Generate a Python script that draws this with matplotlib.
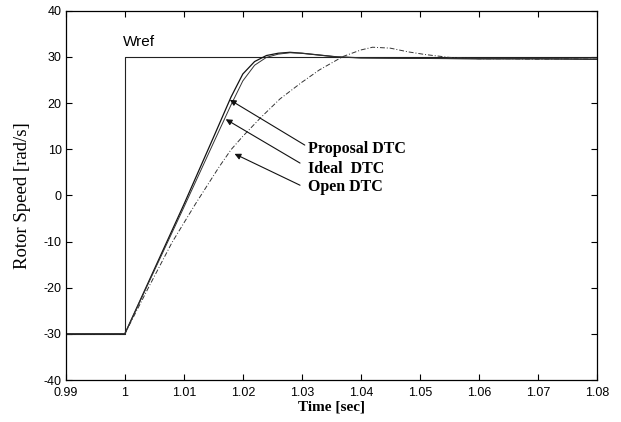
import matplotlib.pyplot as plt

# data
t_ref = [0.99, 1.0, 1.0, 1.08]
w_ref = [-30, -30, 30, 30]

t_prop = [0.99, 1.000, 1.005, 1.010, 1.015, 1.018, 1.020, 1.022, 1.024, 1.026,
          1.028, 1.030, 1.033, 1.036, 1.040, 1.050, 1.060, 1.070, 1.080]
w_prop = [-30, -30, -16, -2, 12.5, 21.3, 26.3, 29.0, 30.3, 30.8,
          31.0, 30.8, 30.4, 30.0, 29.8, 29.7, 29.6, 29.6, 29.5]

t_ideal = [0.99, 1.000, 1.005, 1.010, 1.015, 1.018, 1.020, 1.022, 1.024, 1.026,
           1.028, 1.030, 1.033, 1.036, 1.040, 1.050, 1.060, 1.070, 1.080]
w_ideal = [-30, -30, -16.3, -2.6, 11.3, 19.6, 24.8, 28.2, 29.9, 30.6,
           30.9, 30.8, 30.4, 30.0, 29.8, 29.7, 29.6, 29.6, 29.5]

t_open = [0.99, 1.000, 1.004, 1.008, 1.012, 1.016, 1.018, 1.020, 1.023, 1.0263,
          1.030, 1.033, 1.037, 1.040, 1.042, 1.045, 1.048, 1.051, 1.055, 1.060,
          1.065, 1.070, 1.075, 1.080]
w_open = [-30, -30, -20, -10.2, -1.8, 6.2, 9.9, 12.8, 16.8, 20.9,
          24.5, 27.2, 30.1, 31.5, 32.1, 31.9, 31.1, 30.5, 29.9, 29.6,
          29.6, 29.5, 29.6, 29.5]

xticks = [0.99, 1.0, 1.01, 1.02, 1.03, 1.04, 1.05, 1.06, 1.07, 1.08]
xticklabels = ['0.99', '1', '1.01', '1.02', '1.03', '1.04', '1.05', '1.06', '1.07', '1.08']
yticks = [-40, -30, -20, -10, 0, 10, 20, 30, 40]

plt.rcParams['font.family'] = ['Liberation Sans', 'DejaVu Sans']
plt.rcParams['axes.unicode_minus'] = False

fig = plt.figure(figsize=(6.21, 4.22), dpi=100)
ax = fig.add_axes([0.106, 0.0995, 0.855, 0.875])

ax.plot(t_ref, w_ref, color='#222222', lw=0.8)
ax.plot(t_prop, w_prop, color='#111111', lw=0.9)
ax.plot(t_ideal, w_ideal, color='#333333', lw=0.7)
ax.plot(t_open, w_open, color='#333333', lw=0.7, linestyle=(0, (5, 2, 1, 2)))

ax.set_xlim(0.99, 1.08)
ax.set_ylim(-40, 40)
ax.set_xticks(xticks)
ax.set_xticklabels(xticklabels)
ax.set_yticks(yticks)
ax.tick_params(direction='in', length=4, width=0.8, labelsize=9,
               top=True, right=True, pad=3)
ax.tick_params(axis='x', pad=5)
for s in ax.spines.values():
    s.set_linewidth(0.9)

ax.set_xlabel('Time [sec]', family='Liberation Serif', fontweight='bold',
              fontsize=11, labelpad=1)
ax.set_ylabel('Rotor Speed [rad/s]', family='Liberation Serif', fontsize=13.5,
              labelpad=9)

ax.text(0.99966, 33.3, 'Wref', fontsize=11, va='center', ha='left')

labels = ['Proposal DTC', 'Ideal  DTC', 'Open DTC']
text_y = [10.0, 5.7, 1.9]
heads = [(1.0178, 20.7), (1.0171, 16.5), (1.0186, 9.0)]
tails = [(1.0305, 10.9), (1.0297, 7.0), (1.0297, 2.2)]
for lab, ty, hd, tl in zip(labels, text_y, heads, tails):
    ax.text(1.0311, ty, lab, family='Liberation Serif', fontweight='bold',
            fontsize=11.5, va='center', ha='left')
    ax.annotate('', xy=hd, xytext=tl,
                arrowprops=dict(arrowstyle='-|>', lw=0.8, color='#111111',
                                mutation_scale=9, shrinkA=0, shrinkB=0))

fig.savefig('out.png', dpi=100)
